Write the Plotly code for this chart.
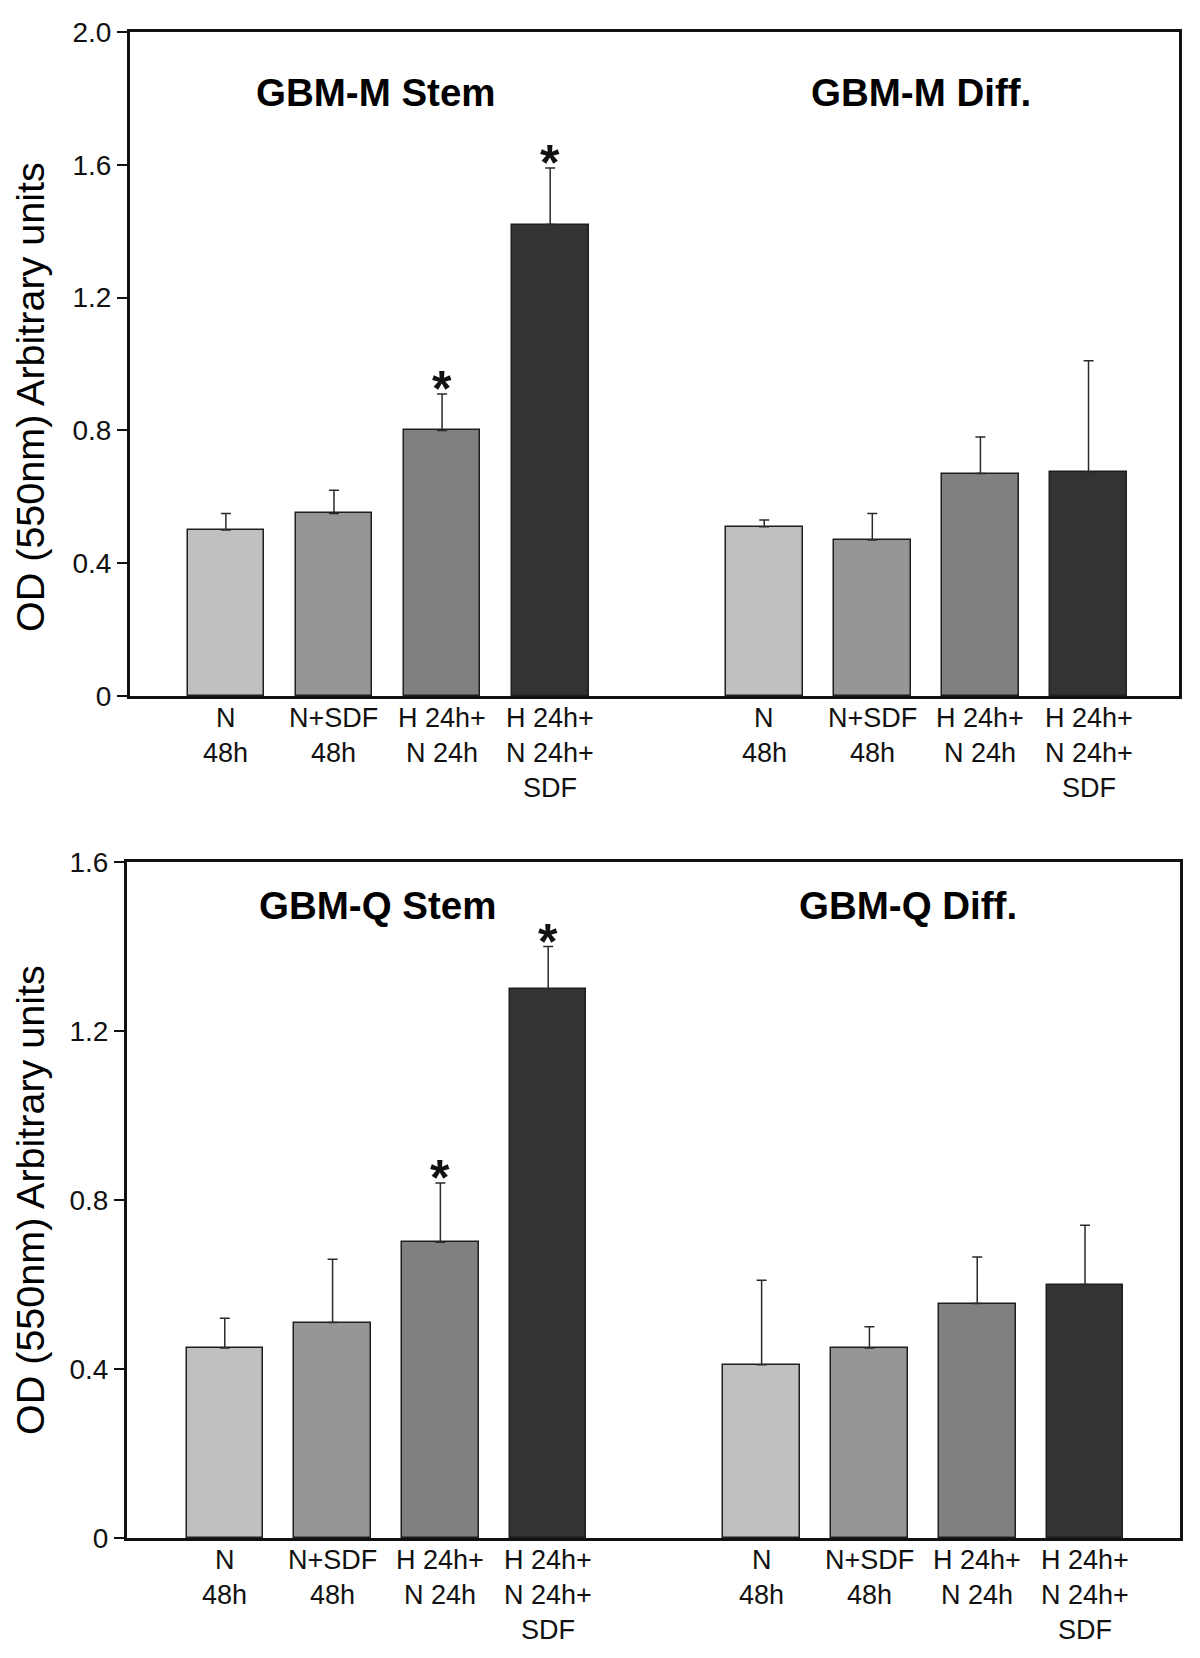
import plotly.graph_objects as go

# ---------------- data ----------------
categories = [["N", "48h"], ["N+SDF", "48h"], ["H 24h+", "N 24h"], ["H 24h+", "N 24h+", "SDF"]]
bar_colors = ["#c0c0c0", "#969696", "#808080", "#333333"]

# GBM-M (top panel)
gbm_m_stem = [0.50, 0.55, 0.80, 1.42]
gbm_m_stem_err = [0.05, 0.07, 0.11, 0.17]
gbm_m_stem_sig = [False, False, True, True]
gbm_m_diff = [0.51, 0.47, 0.67, 0.675]
gbm_m_diff_err = [0.02, 0.08, 0.11, 0.335]
gbm_m_diff_sig = [False, False, False, False]

# GBM-Q (bottom panel)
gbm_q_stem = [0.45, 0.51, 0.70, 1.30]
gbm_q_stem_err = [0.07, 0.15, 0.14, 0.10]
gbm_q_stem_sig = [False, False, True, True]
gbm_q_diff = [0.41, 0.45, 0.555, 0.60]
gbm_q_diff_err = [0.20, 0.05, 0.11, 0.14]
gbm_q_diff_sig = [False, False, False, False]

titles_top = ["GBM-M Stem", "GBM-M Diff."]
titles_bottom = ["GBM-Q Stem", "GBM-Q Diff."]
y_title = "OD (550nm) Arbitrary units"
yticks_top = [0, 0.4, 0.8, 1.2, 1.6, 2.0]
yticks_bottom = [0, 0.4, 0.8, 1.2, 1.6]

# ---------------- layout helpers ----------------
W, H = 1200, 1658
FONT = "Liberation Sans, Arial, Helvetica, sans-serif"
group_offsets = [1.0, 5.98]
BAR_W = 0.71
LABEL_OFFSETS = [21.5, 57, 92]   # px below axis for each label line


def positions():
    xs = []
    for off in group_offsets:
        xs += [off + i for i in range(len(categories))]
    return xs


def fmt(v):
    return "0" if v == 0 else f"{v:.1f}"


fig = go.Figure()

panels = [
    dict(stem=gbm_m_stem, stem_err=gbm_m_stem_err, stem_sig=gbm_m_stem_sig,
         diff=gbm_m_diff, diff_err=gbm_m_diff_err, diff_sig=gbm_m_diff_sig,
         titles=titles_top, yticks=yticks_top,
         px=(130, 1179), py=(32, 696), xr=(0.113, 9.817),
         title_px=[(376, 93), (921, 93)], ytitle_py=397),
    dict(stem=gbm_q_stem, stem_err=gbm_q_stem_err, stem_sig=gbm_q_stem_sig,
         diff=gbm_q_diff, diff_err=gbm_q_diff_err, diff_sig=gbm_q_diff_sig,
         titles=titles_bottom, yticks=yticks_bottom,
         px=(127, 1180), py=(862, 1538), xr=(0.093, 9.861),
         title_px=[(377, 906), (908, 906)], ytitle_py=1200),
]

annotations = []
for k, p in enumerate(panels):
    xa = "x" if k == 0 else f"x{k+1}"
    ya = "y" if k == 0 else f"y{k+1}"
    xs = positions()
    ys = p["stem"] + p["diff"]
    errs = p["stem_err"] + p["diff_err"]
    sig = p["stem_sig"] + p["diff_sig"]
    cols = bar_colors * 2
    fig.add_trace(go.Bar(
        x=xs, y=ys, width=BAR_W, xaxis=xa, yaxis=ya,
        marker=dict(color=cols, line=dict(color="#1e1e1e", width=1.5)),
        error_y=dict(type="data", symmetric=False, array=errs,
                     arrayminus=[0] * len(errs), color="#2a2a2a",
                     thickness=1.5, width=5),
        showlegend=False, hoverinfo="skip",
    ))
    # significance stars
    for x, y, e, s in zip(xs, ys, errs, sig):
        if s:
            annotations.append(dict(
                x=x, y=y + e, xref=xa, yref=ya, text="<b>*</b>",
                showarrow=False, yanchor="middle", yshift=5,
                font=dict(family=FONT, size=50, color="#111")))
    # category labels (one annotation per line)
    for x, lines in zip(xs, categories * 2):
        for li, line in enumerate(lines):
            annotations.append(dict(
                x=x, y=0, xref=xa, yref=f"{ya} domain", text=line,
                showarrow=False, xanchor="center", yanchor="middle",
                yshift=-LABEL_OFFSETS[li],
                font=dict(family=FONT, size=27, color="#111")))
    # panel titles
    for t, (tx, ty) in zip(p["titles"], p["title_px"]):
        annotations.append(dict(
            x=tx / W, y=1 - ty / H, xref="paper", yref="paper",
            text=f"<b>{t}</b>", showarrow=False, xanchor="center",
            yanchor="middle", font=dict(family=FONT, size=38.5, color="#000")))
    # y-axis title
    annotations.append(dict(
        x=30 / W, y=1 - p["ytitle_py"] / H, xref="paper", yref="paper",
        text=y_title, textangle=-90, showarrow=False, xanchor="center",
        yanchor="middle", font=dict(family=FONT, size=39.5, color="#000")))

    ax_common = dict(showline=True, mirror=True, linewidth=3,
                     linecolor="#111", showgrid=False, zeroline=False,
                     automargin=False, fixedrange=True)
    xkey = "xaxis" if k == 0 else f"xaxis{k+1}"
    ykey = "yaxis" if k == 0 else f"yaxis{k+1}"
    fig.update_layout(**{
        xkey: dict(domain=[p["px"][0] / W, p["px"][1] / W], range=list(p["xr"]),
                   showticklabels=False, ticks="", anchor=ya, **ax_common),
        ykey: dict(domain=[1 - p["py"][1] / H, 1 - p["py"][0] / H],
                   range=[0, p["yticks"][-1]], tickvals=p["yticks"],
                   ticktext=[fmt(v) for v in p["yticks"]],
                   ticks="outside", ticklen=10, tickwidth=1.5, tickcolor="#111",
                   tickfont=dict(family=FONT, size=28, color="#111"),
                   anchor=xa, **ax_common),
    })

fig.update_layout(
    width=W, height=H, margin=dict(l=0, r=0, t=0, b=0, autoexpand=False),
    paper_bgcolor="white", plot_bgcolor="white",
    annotations=annotations, bargap=0,
)

fig.write_html("out.html", config={"displayModeBar": False},
               post_script="document.body.style.margin='0px';")
